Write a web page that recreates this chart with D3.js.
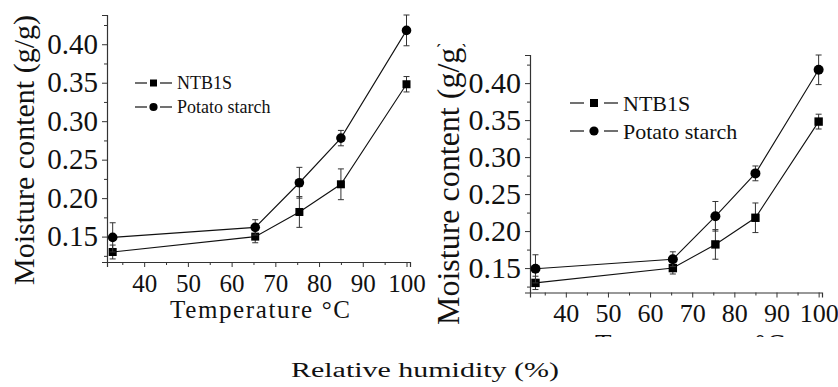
<!DOCTYPE html>
<html>
<head>
<meta charset="utf-8">
<script src="https://cdn.jsdelivr.net/npm/d3@7"></script>
<style>
  html, body { margin: 0; padding: 0; background: #fff; }
  svg { display: block; }
  text { font-family: "Liberation Serif", "DejaVu Serif", serif; fill: #111; }
</style>
</head>
<body>
<svg id="chart" width="838" height="387"></svg>
<script>
// ---- data ----
const relativeHumidity = [32.8, 65.4, 75.5, 85, 100];
const ntb1sValues = [0.130, 0.150, 0.182, 0.218, 0.348];
const ntb1sErrors = [0.009, 0.008, 0.020, 0.020, 0.010];
const potatoValues = [0.149, 0.162, 0.220, 0.278, 0.418];
const potatoErrors = [0.019, 0.010, 0.020, 0.010, 0.020];
const seriesNames = ["NTB1S", "Potato starch"];
const yTickValues = [0.15, 0.20, 0.25, 0.30, 0.35, 0.40];
const yMinorTicks = [0.125, 0.175, 0.225, 0.275, 0.325, 0.375, 0.425];
const xTickValues = [40, 50, 60, 70, 80, 90, 100];
const xMinorTicks = [35, 45, 55, 65, 75, 85, 95];
const yTitle = "Moisture content (g/g)";
const xTitle = "Temperature \u00B0C";
const caption = "Relative humidity (%)";

const SERIF = "Liberation Serif";
const svg = d3.select("#chart");
svg.append("rect").attr("width", 838).attr("height", 387).attr("fill", "#fff");

const series = [
  { name: seriesNames[0], values: ntb1sValues, errors: ntb1sErrors, shape: "square" },
  { name: seriesNames[1], values: potatoValues, errors: potatoErrors, shape: "circle" }
];

function drawPanel(g, o) {
  const x = d3.scaleLinear().domain([31.5, 100.8]).range([o.left, o.right]);
  const y = d3.scaleLinear().domain([0.117, 0.438]).range([o.bottom, o.top]);

  // y axis
  const yAxis = d3.axisLeft(y).tickValues(yTickValues).tickFormat(d3.format(".2f")).tickSize(5).tickPadding(4);
  const ya = g.append("g").attr("transform", `translate(${o.left},0)`).call(yAxis)
    .attr("font-family", SERIF).attr("font-size", o.yTickFont);
  ya.select(".domain").attr("stroke", "#333").attr("stroke-width", 1.2);
  ya.selectAll(".tick line").attr("stroke", "#333");
  ya.selectAll("text").attr("fill", "#111");
  g.append("g").attr("transform", `translate(${o.left},0)`)
    .call(d3.axisLeft(y).tickValues(yMinorTicks).tickSize(3).tickFormat(""))
    .call(s => { s.select(".domain").remove(); s.selectAll("line").attr("stroke", "#333"); });

  // x axis
  const xAxis = d3.axisBottom(x).tickValues(xTickValues).tickFormat(d3.format("d")).tickSize(5).tickPadding(o.xPad);
  const xa = g.append("g").attr("transform", `translate(0,${o.bottom})`).call(xAxis)
    .attr("font-family", SERIF).attr("font-size", o.xTickFont);
  xa.select(".domain").attr("stroke", "#333").attr("stroke-width", 1.2);
  xa.selectAll(".tick line").attr("stroke", "#333");
  xa.selectAll("text").attr("fill", "#111");
  g.append("g").attr("transform", `translate(0,${o.bottom})`)
    .call(d3.axisBottom(x).tickValues(xMinorTicks).tickSize(3).tickFormat(""))
    .call(s => { s.select(".domain").remove(); s.selectAll("line").attr("stroke", "#333"); });

  // lines, error bars, markers
  const line = d3.line().x((d, i) => x(relativeHumidity[i])).y(d => y(d));
  series.forEach(s => {
    g.append("path").datum(s.values).attr("d", line)
      .attr("fill", "none").attr("stroke", "#111").attr("stroke-width", 1.1);
    const eb = g.append("g");
    s.values.forEach((v, i) => {
      const cx = x(relativeHumidity[i]);
      const y1 = y(v + s.errors[i]), y2 = y(v - s.errors[i]);
      eb.append("line").attr("x1", cx).attr("x2", cx).attr("y1", y1).attr("y2", y2).attr("stroke", "#333").attr("stroke-width", 1);
      [y1, y2].forEach(yy => eb.append("line").attr("x1", cx - 3).attr("x2", cx + 3).attr("y1", yy).attr("y2", yy).attr("stroke", "#333").attr("stroke-width", 1));
    });
    s.values.forEach((v, i) => {
      const cx = x(relativeHumidity[i]), cy = y(v);
      if (s.shape === "square") {
        g.append("rect").attr("x", cx - o.mk).attr("y", cy - o.mk).attr("width", 2 * o.mk).attr("height", 2 * o.mk).attr("fill", "#000");
      } else {
        g.append("circle").attr("cx", cx).attr("cy", cy).attr("r", o.mk + 0.8).attr("fill", "#000");
      }
    });
  });

  // legend
  series.forEach((s, i) => {
    const ly = o.legY + i * o.legGap;
    const lx = o.legX;
    g.append("line").attr("x1", lx).attr("x2", lx + o.legSeg).attr("y1", ly).attr("y2", ly).attr("stroke", "#111").attr("stroke-width", 1.2);
    g.append("line").attr("x1", lx + o.legW - o.legSeg).attr("x2", lx + o.legW).attr("y1", ly).attr("y2", ly).attr("stroke", "#111").attr("stroke-width", 1.2);
    const mx = lx + o.legW / 2;
    if (s.shape === "square") {
      g.append("rect").attr("x", mx - o.legMk).attr("y", ly - o.legMk).attr("width", 2 * o.legMk).attr("height", 2 * o.legMk).attr("fill", "#000");
    } else {
      g.append("circle").attr("cx", mx).attr("cy", ly).attr("r", o.legMk + 0.6).attr("fill", "#000");
    }
    g.append("text").attr("x", lx + o.legW + 5).attr("y", ly).attr("dy", "0.35em")
      .attr("font-family", SERIF).style("font-size", o.legFont + "px").text(s.name);
  });

  // titles
  g.append("text").attr("transform", `translate(${o.yTitleX},${o.yTitleY}) rotate(-90)`)
    .attr("text-anchor", o.yTitleAnchor).attr("font-family", SERIF)
    .style("font-size", o.yTitleFont + "px").text(yTitle);
  g.append("text").attr("x", o.xTitleX).attr("y", o.xTitleY).attr("text-anchor", "middle")
    .attr("textLength", o.xTitleLen).attr("lengthAdjust", "spacing").attr("font-family", SERIF)
    .style("font-size", o.xTitleFont + "px").text(xTitle);
}

// left panel
drawPanel(svg.append("g"), {
  left: 107, right: 410, top: 15, bottom: 262,
  yTickFont: 29, xTickFont: 25, xPad: 7, mk: 4,
  legX: 135, legY: 83, legGap: 24, legW: 37, legSeg: 12, legMk: 3.5, legFont: 18,
  yTitleX: 34, yTitleY: 150, yTitleAnchor: "middle", yTitleFont: 30,
  xTitleX: 260, xTitleY: 318, xTitleLen: 180, xTitleFont: 25
});

// right panel (cropped inset)
const defs = svg.append("defs");
defs.append("clipPath").attr("id", "rightClip").append("rect")
  .attr("x", 431).attr("y", 44).attr("width", 407).attr("height", 293);
const rg = svg.append("g").attr("clip-path", "url(#rightClip)");
rg.append("rect").attr("x", 431).attr("y", 44).attr("width", 407).attr("height", 293).attr("fill", "#fff");
drawPanel(rg, {
  left: 530, right: 822, top: 55, bottom: 292.5,
  yTickFont: 30, xTickFont: 26, xPad: 6, mk: 4.2,
  legX: 570, legY: 103, legGap: 28, legW: 48, legSeg: 14, legMk: 4, legFont: 22,
  yTitleX: 459, yTitleY: 325, yTitleAnchor: "start", yTitleFont: 32,
  xTitleX: 690, xTitleY: 353, xTitleLen: 190, xTitleFont: 27
});

// caption
svg.append("text").attr("x", 425).attr("y", 377).attr("text-anchor", "middle")
  .attr("font-family", "DejaVu Serif").style("font-size", "20px")
  .attr("textLength", 268).attr("lengthAdjust", "spacingAndGlyphs")
  .text(caption);
</script>
</body>
</html>
